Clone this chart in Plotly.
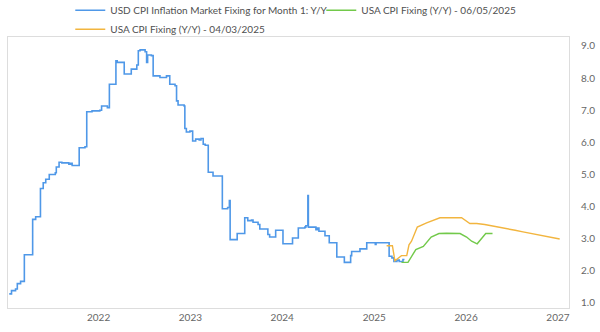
import plotly.graph_objects as go

# ---- Data ----
blue_dates = [
    "2021-01-11", "2021-01-20", "2021-02-05", "2021-02-12", "2021-02-25", "2021-03-12",
    "2021-04-14", "2021-04-26", "2021-05-15", "2021-05-26", "2021-06-05", "2021-06-19",
    "2021-07-13", "2021-07-17", "2021-07-28", "2021-08-08", "2021-09-05", "2021-09-12",
    "2021-09-18", "2021-10-16", "2021-11-08", "2021-11-15", "2021-12-06", "2022-01-06",
    "2022-01-13", "2022-02-05", "2022-02-13", "2022-03-11", "2022-03-16", "2022-04-13",
    "2022-05-03", "2022-05-11", "2022-06-02", "2022-06-08", "2022-06-15", "2022-07-05",
    "2022-07-11", "2022-07-15", "2022-07-30", "2022-08-06", "2022-09-02", "2022-09-28",
    "2022-10-11", "2022-11-01", "2022-11-07", "2022-11-13", "2022-12-07", "2022-12-10",
    "2022-12-16", "2022-12-30", "2023-01-10", "2023-01-22", "2023-02-05", "2023-02-12",
    "2023-02-21", "2023-03-01", "2023-03-13", "2023-04-01", "2023-05-08", "2023-05-29",
    "2023-06-05", "2023-06-08", "2023-07-06", "2023-08-05", "2023-08-17", "2023-09-01",
    "2023-09-07", "2023-09-27", "2023-10-04", "2023-11-05", "2023-11-12", "2023-12-06",
    "2024-01-04", "2024-02-11", "2024-03-05", "2024-03-31", "2024-04-04", "2024-04-12",
    "2024-04-14", "2024-05-14", "2024-05-20", "2024-05-26", "2024-06-19", "2024-07-06",
    "2024-08-05", "2024-09-04", "2024-09-29", "2024-10-03", "2024-11-05", "2024-12-02",
    "2025-01-05", "2025-01-08", "2025-03-01", "2025-03-12", "2025-03-20", "2025-04-01",
    "2025-04-10", "2025-04-25", "2025-05-01",
]
blue_values = [
    1.28, 1.38, 1.43, 1.60, 1.67, 2.50,
    3.60, 3.68, 4.56, 4.74, 4.85, 5.00,
    5.05, 5.23, 5.38, 5.36, 5.32, 5.35,
    5.28, 5.83, 5.86, 6.95, 6.98, 7.00,
    7.13, 7.08, 7.81, 8.54, 8.49, 8.13,
    8.13, 8.28, 8.41, 8.85, 8.88, 8.82,
    8.49, 8.72, 8.70, 8.07, 8.02, 8.07,
    7.81, 7.76, 7.29, 7.16, 7.13, 6.43,
    6.32, 6.35, 6.04, 6.10, 6.07, 6.12,
    5.94, 5.91, 5.07, 4.95, 3.93, 3.97,
    4.19, 2.97, 3.16, 3.65, 3.56, 3.58,
    3.51, 3.44, 3.30, 3.13, 3.05, 3.26,
    2.84, 3.02, 3.33, 3.36, 3.40, 4.34,
    3.36, 3.28, 3.33, 3.23, 3.09, 2.87,
    2.43, 2.26, 2.47, 2.60, 2.68, 2.87,
    2.82, 2.87, 2.45, 2.40, 2.29, 2.33,
    2.29, 2.35, 2.35,
]

green_dates = [
    "2025-04-19", "2025-05-15", "2025-06-15", "2025-07-15", "2025-08-15", "2025-09-15",
    "2025-10-15", "2025-11-15", "2025-12-08", "2026-01-03", "2026-01-23", "2026-02-14",
    "2026-03-20", "2026-04-16",
]
green_values = [
    2.26, 2.26, 2.66, 2.76, 3.05, 3.16,
    3.17, 3.17, 3.16, 3.05, 2.92, 2.84,
    3.16, 3.16,
]

orange_dates = [
    "2025-02-19", "2025-03-14", "2025-03-24", "2025-04-19", "2025-05-10", "2025-05-19",
    "2025-05-29", "2025-06-21", "2025-07-28", "2025-09-19", "2025-10-15", "2025-11-15",
    "2025-12-14", "2026-01-16", "2026-02-12", "2026-03-16", "2026-04-15", "2026-05-15",
    "2026-06-15", "2026-07-15", "2026-08-15", "2026-09-15", "2026-10-15", "2026-11-15",
    "2026-12-15", "2027-01-08",
]
orange_values = [
    2.78, 2.78, 2.31, 2.47, 2.47, 2.81,
    2.92, 3.36, 3.49, 3.65, 3.65, 3.65,
    3.65, 3.47, 3.47, 3.44, 3.40, 3.36,
    3.31, 3.26, 3.21, 3.16, 3.11, 3.06,
    3.02, 2.99,
]

y_ticks = [1, 2, 3, 4, 5, 6, 7, 8, 9]
x_tick_dates = ["2022-01-01", "2023-01-01", "2024-01-01", "2025-01-01", "2026-01-01", "2027-01-01"]
x_tick_text = ["2022", "2023", "2024", "2025", "2026", "2027"]

BLUE = "#4f98e8"
GREEN = "#72c94a"
ORANGE = "#f2b53f"
FONT = "Lato"

fig = go.Figure()
fig.add_trace(go.Scatter(
    x=blue_dates, y=blue_values, mode="lines", line_shape="hv",
    line=dict(color=BLUE, width=1.6),
    name="USD CPI Inflation Market Fixing for Month 1: Y/Y",
))
fig.add_trace(go.Scatter(
    x=green_dates, y=green_values, mode="lines",
    line=dict(color=GREEN, width=1.4),
    name="USA CPI Fixing (Y/Y) - 06/05/2025",
))
fig.add_trace(go.Scatter(
    x=orange_dates, y=orange_values, mode="lines",
    line=dict(color=ORANGE, width=1.4),
    name="USA CPI Fixing (Y/Y) - 04/03/2025",
))

fig.update_layout(
    width=600, height=332,
    margin=dict(l=8, r=31, t=37, b=24, autoexpand=False),
    paper_bgcolor="white", plot_bgcolor="white",
    font=dict(family=FONT, size=10, color="#666666"),
    showlegend=True,
    legend=dict(
        orientation="h", x=0.111, xanchor="left", y=1.152, yanchor="top",
        yref="paper", entrywidth=206,
        font=dict(family=FONT, size=10, color="#505050"),
        bgcolor="rgba(0,0,0,0)", tracegroupgap=0, itemwidth=30,
    ),
    xaxis=dict(
        type="date", range=["2021-01-06", "2027-02-14"],
        tickvals=x_tick_dates, ticktext=x_tick_text,
        showgrid=False, zeroline=False,
        showline=True, linecolor="#dddddd", linewidth=1, mirror=True,
        ticks="", tickfont=dict(family=FONT, size=10, color="#666666"),
    ),
    yaxis=dict(
        side="right", range=[0.84, 9.28],
        tickvals=y_ticks, tickformat=".1f",
        showgrid=False, zeroline=False,
        showline=True, linecolor="#dddddd", linewidth=1, mirror=True,
        ticks="", ticklabelstandoff=9,
        tickfont=dict(family=FONT, size=10, color="#666666"),
    ),
)

fig.write_html("out.html")
